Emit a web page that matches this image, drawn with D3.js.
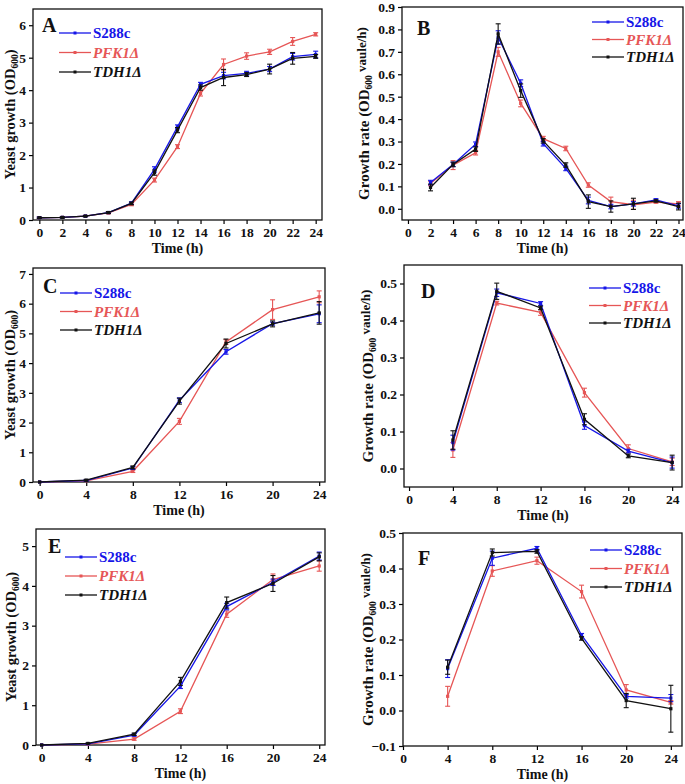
<!DOCTYPE html>
<html><head><meta charset="utf-8">
<script src="https://cdn.jsdelivr.net/npm/d3@7"></script>
<style>
body{margin:0;background:#fff}
svg{display:block}
text{font-family:"Liberation Serif","Times New Roman",serif;font-weight:bold}
</style>
</head><body>
<svg id="chart" width="685" height="784"></svg>
<script>
// ---------------- DATA ----------------
const seriesNames = ["S288c", "PFK1Δ", "TDH1Δ"];
const seriesItalic = [false, true, true];

// Panel A: OD600, every 2 h
const timesA = [0,2,4,6,8,10,12,14,16,18,20,22,24];
const aS288c = [0.07,0.08,0.12,0.23,0.52,1.56,2.87,4.18,4.45,4.52,4.65,5.03,5.10];
const aPFK1  = [0.07,0.08,0.12,0.22,0.48,1.23,2.26,3.90,4.79,5.05,5.18,5.50,5.72];
const aTDH1  = [0.07,0.08,0.12,0.23,0.51,1.46,2.77,4.08,4.39,4.48,4.65,4.98,5.04];
const aS288cErr = [0.02,0.02,0.02,0.03,0.04,0.08,0.06,0.06,0.10,0.06,0.08,0.10,0.10];
const aPFK1Err  = [0.02,0.02,0.02,0.03,0.04,0.06,0.06,0.08,0.17,0.10,0.08,0.12,0.05];
const aTDH1Err  = [0.02,0.02,0.02,0.03,0.04,0.08,0.08,0.08,0.25,0.06,0.15,0.18,0.06];

// Panel B: growth rate, every 2 h
const timesB = [2,4,6,8,10,12,14,16,18,20,22,24];
const bS288c = [0.117,0.198,0.288,0.764,0.560,0.290,0.180,0.037,0.010,0.022,0.040,0.013];
const bPFK1  = [0.113,0.195,0.250,0.700,0.470,0.313,0.269,0.106,0.032,0.018,0.030,0.022];
const bTDH1  = [0.095,0.198,0.266,0.780,0.527,0.303,0.195,0.032,0.010,0.022,0.035,0.010];
const bS288cErr = [0.010,0.010,0.010,0.030,0.015,0.010,0.010,0.015,0.010,0.010,0.005,0.010];
const bPFK1Err  = [0.010,0.020,0.010,0.020,0.015,0.010,0.010,0.010,0.020,0.020,0.005,0.010];
const bTDH1Err  = [0.015,0.010,0.010,0.045,0.030,0.010,0.010,0.030,0.025,0.025,0.005,0.015];

// Panel C: OD600, every 4 h
const timesC = [0,4,8,12,16,20,24];
const cS288c = [0.00,0.05,0.47,2.75,4.38,5.33,5.66];
const cPFK1  = [0.00,0.04,0.36,2.04,4.71,5.80,6.23];
const cTDH1  = [0.00,0.06,0.49,2.72,4.66,5.32,5.69];
const cS288cErr = [0,0.03,0.05,0.08,0.08,0.05,0.30];
const cPFK1Err  = [0,0.02,0.04,0.10,0.08,0.33,0.20];
const cTDH1Err  = [0,0.03,0.05,0.10,0.15,0.10,0.38];

// Panel D: growth rate, every 4 h
const timesD = [4,8,12,16,20,24];
const dS288c = [0.070,0.475,0.446,0.116,0.047,0.016];
const dPFK1  = [0.050,0.447,0.422,0.205,0.054,0.018];
const dTDH1  = [0.077,0.479,0.434,0.133,0.034,0.016];
const dS288cErr = [0.020,0.010,0.005,0.010,0.005,0.015];
const dPFK1Err  = [0.020,0.005,0.008,0.012,0.010,0.010];
const dTDH1Err  = [0.025,0.022,0.005,0.015,0.005,0.020];

// Panel E: OD600, every 4 h
const timesE = [0,4,8,12,16,20,24];
const eS288c = [0.00,0.03,0.25,1.48,3.48,4.09,4.75];
const ePFK1  = [0.00,0.02,0.15,0.85,3.29,4.16,4.50];
const eTDH1  = [0.00,0.04,0.27,1.60,3.58,4.06,4.73];
const eS288cErr = [0,0.01,0.03,0.06,0.08,0.08,0.10];
const ePFK1Err  = [0,0.01,0.03,0.06,0.08,0.14,0.13];
const eTDH1Err  = [0,0.01,0.03,0.10,0.14,0.20,0.10];

// Panel F: growth rate, every 4 h
const timesF = [4,8,12,16,20,24];
const fS288c = [0.118,0.429,0.457,0.212,0.040,0.035];
const fPFK1  = [0.040,0.393,0.422,0.335,0.058,0.023];
const fTDH1  = [0.122,0.445,0.448,0.203,0.028,0.005];
const fS288cErr = [0.025,0.020,0.005,0.005,0.005,0.010];
const fPFK1Err  = [0.028,0.015,0.010,0.018,0.015,0.005];
const fTDH1Err  = [0.020,0.010,0.005,0.005,0.020,0.066];

// Axis ticks
const ticksX2 = [0,2,4,6,8,10,12,14,16,18,20,22,24];
const ticksX4 = [0,4,8,12,16,20,24];
const ticksYA = [0,1,2,3,4,5,6];
const ticksYB = [0,0.1,0.2,0.3,0.4,0.5,0.6,0.7,0.8,0.9];
const ticksYC = [0,1,2,3,4,5,6,7];
const ticksYD = [0,0.1,0.2,0.3,0.4,0.5];
const ticksYE = [0,1,2,3,4,5];
const ticksYF = [-0.1,0,0.1,0.2,0.3,0.4,0.5];

const xTitle = "Time (h)";

// ---------------- STYLE / LAYOUT ----------------
const colors = ["#1616e8", "#e65656", "#111111"];
const drawOrder = [1, 0, 2];

const layout = [
  {letter:"A", left:33, right:322, top:9, bottom:220, xd:[-0.55,24.55], yd:[0,6.5],
   xt:ticksX2, yt:ticksYA, fmt:d3.format("d"), times:timesA,
   vals:[aS288c,aPFK1,aTDH1], errs:[aS288cErr,aPFK1Err,aTDH1Err], kind:"od",
   yTitleX:15, letterX:42, letterY:32, legX:59, legY:33, legDy:19.5},
  {letter:"B", left:402, right:683, top:7, bottom:220, xd:[-0.53,24.4], yd:[-0.05,0.9],
   xt:ticksX2, yt:ticksYB, fmt:d3.format(".1f"), times:timesB,
   vals:[bS288c,bPFK1,bTDH1], errs:[bS288cErr,bPFK1Err,bTDH1Err], kind:"rate",
   yTitleX:369, letterX:417, letterY:35, legX:592, legY:22, legDy:17.5},
  {letter:"C", left:33, right:325, top:268, bottom:482, xd:[-0.57,24.5], yd:[0,7.2],
   xt:ticksX4, yt:ticksYC, fmt:d3.format("d"), times:timesC,
   vals:[cS288c,cPFK1,cTDH1], errs:[cS288cErr,cPFK1Err,cTDH1Err], kind:"od",
   yTitleX:15, letterX:43, letterY:293, legX:60, legY:293, legDy:18.5},
  {letter:"D", left:404, right:682, top:265, bottom:487, xd:[-0.46,24.9], yd:[-0.05,0.55],
   xt:ticksX4, yt:ticksYD, fmt:d3.format(".1f"), times:timesD,
   vals:[dS288c,dPFK1,dTDH1], errs:[dS288cErr,dPFK1Err,dTDH1Err], kind:"rate",
   yTitleX:373, letterX:421, letterY:298, legX:589, legY:288, legDy:17.5},
  {letter:"E", left:36, right:325, top:529, bottom:745, xd:[-0.49,24.5], yd:[0,5.43],
   xt:ticksX4, yt:ticksYE, fmt:d3.format("d"), times:timesE,
   vals:[eS288c,ePFK1,eTDH1], errs:[eS288cErr,ePFK1Err,eTDH1Err], kind:"od",
   yTitleX:16, letterX:48, letterY:553, legX:65, legY:557, legDy:19},
  {letter:"F", left:403, right:682, top:533, bottom:746, xd:[0,25], yd:[-0.1,0.5],
   xt:ticksX4, yt:ticksYF, fmt:d3.format(".1f"), times:timesF,
   vals:[fS288c,fPFK1,fTDH1], errs:[fS288cErr,fPFK1Err,fTDH1Err], kind:"rate",
   yTitleX:373, letterX:418, letterY:565, legX:590, legY:550, legDy:18.5}
];

const svg = d3.select("#chart");

function drawPanel(p){
  const g = svg.append("g");
  const x = d3.scaleLinear().domain(p.xd).range([p.left, p.right]);
  const y = d3.scaleLinear().domain(p.yd).range([p.bottom, p.top]);

  // axes
  const xa = g.append("g").attr("transform", `translate(0,${p.bottom})`)
    .call(d3.axisBottom(x).tickValues(p.xt).tickSize(4).tickPadding(3).tickFormat(d3.format("d")));
  const ya = g.append("g").attr("transform", `translate(${p.left},0)`)
    .call(d3.axisLeft(y).tickValues(p.yt).tickSize(4).tickPadding(3).tickFormat(p.fmt));
  [xa, ya].forEach(a => {
    a.attr("font-family", null).attr("font-size", null);
    a.select(".domain").remove();
    a.selectAll(".tick line").attr("stroke", "#000").attr("stroke-width", 1.2);
    a.selectAll(".tick text").attr("font-size", 13.5).attr("fill", "#111");
  });

  // frame
  g.append("rect").attr("x", p.left).attr("y", p.top)
    .attr("width", p.right - p.left).attr("height", p.bottom - p.top)
    .attr("fill", "none").attr("stroke", "#111").attr("stroke-width", 1.3);

  // titles
  g.append("text").attr("x", (p.left + p.right) / 2).attr("y", p.bottom + 33)
    .attr("text-anchor", "middle").attr("font-size", 14).attr("fill", "#111").text(xTitle);

  const fs = p.kind === "od" ? 14.5 : 15;
  const yt = g.append("text")
    .attr("transform", `translate(${p.yTitleX},${(p.top + p.bottom) / 2}) rotate(-90)`)
    .attr("text-anchor", "middle").attr("font-size", fs).attr("fill", "#111");
  if (p.kind === "od") {
    yt.append("tspan").text("Yeast growth (OD");
    yt.append("tspan").attr("font-size", 9.5).attr("dy", 3).text("600");
    yt.append("tspan").attr("dy", -3).text(")");
  } else {
    yt.append("tspan").text("Growth rate (OD");
    yt.append("tspan").attr("font-size", 9.5).attr("dy", 3).text("600");
    yt.append("tspan").attr("dy", -6).attr("font-size", 13).text(" vaule/h)");
  }

  // series
  drawOrder.forEach(si => {
    const vals = p.vals[si], errs = p.errs[si], col = colors[si];
    const pts = p.times.map((t, i) => ({t, v: vals[i], e: errs[i]}));
    const sg = g.append("g");
    sg.append("path").datum(pts)
      .attr("d", d3.line().x(d => x(d.t)).y(d => y(d.v)))
      .attr("fill", "none").attr("stroke", col).attr("stroke-width", 1.3);
    const eb = sg.selectAll(".eb").data(pts.filter(d => d.e > 0)).join("g");
    eb.append("line").attr("x1", d => x(d.t)).attr("x2", d => x(d.t))
      .attr("y1", d => y(d.v - d.e)).attr("y2", d => y(d.v + d.e))
      .attr("stroke", col).attr("stroke-width", 1.1);
    [-1, 1].forEach(sgn => {
      eb.append("line").attr("x1", d => x(d.t) - 2.5).attr("x2", d => x(d.t) + 2.5)
        .attr("y1", d => y(d.v + sgn * d.e)).attr("y2", d => y(d.v + sgn * d.e))
        .attr("stroke", col).attr("stroke-width", 1.1);
    });
    sg.selectAll(".mk").data(pts).join("rect")
      .attr("x", d => x(d.t) - 1.6).attr("y", d => y(d.v) - 1.6)
      .attr("width", 3.2).attr("height", 3.2).attr("fill", col);
  });

  // panel letter
  g.append("text").attr("x", p.letterX).attr("y", p.letterY)
    .attr("font-size", 20).attr("fill", "#111").text(p.letter);

  // legend
  seriesNames.forEach((name, i) => {
    const ly = p.legY + i * p.legDy;
    g.append("line").attr("x1", p.legX).attr("x2", p.legX + 32)
      .attr("y1", ly).attr("y2", ly).attr("stroke", colors[i]).attr("stroke-width", 1.3);
    g.append("rect").attr("x", p.legX + 16 - 1.5).attr("y", ly - 1.5)
      .attr("width", 3).attr("height", 3).attr("fill", colors[i]);
    g.append("text").attr("x", p.legX + 34).attr("y", ly + 5)
      .attr("font-size", 15).attr("fill", colors[i])
      .attr("font-style", seriesItalic[i] ? "italic" : "normal").text(name);
  });
}

layout.forEach(drawPanel);
</script>
</body></html>
